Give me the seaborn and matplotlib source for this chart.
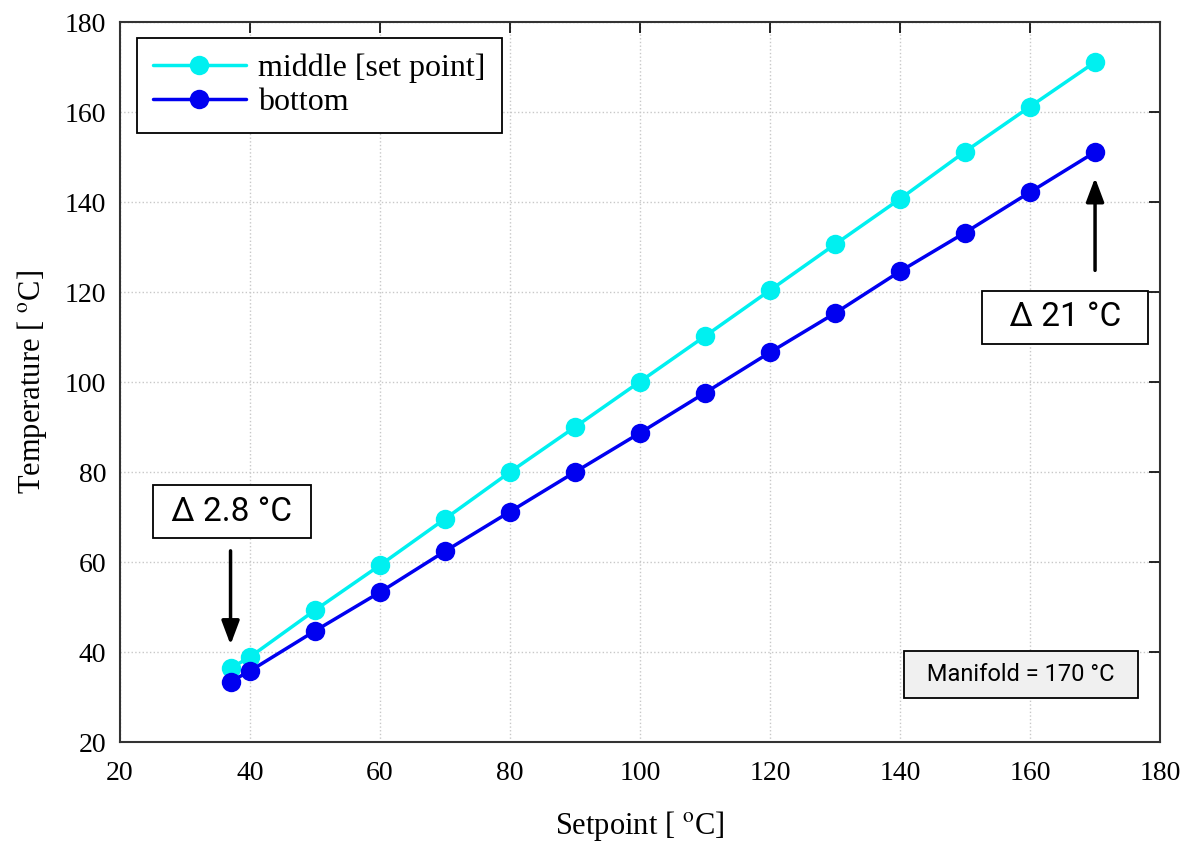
import numpy as np
import pandas as pd
import matplotlib
matplotlib.use("Agg")
import matplotlib.pyplot as plt
import seaborn as sns

setpoint = [37, 40, 50, 60, 70, 80, 90, 100, 110, 120, 130, 140, 150, 160, 170]
middle = [36.4, 38.9, 49.3, 59.3, 69.6, 80.0, 90.0, 100.1, 110.2, 120.4, 130.6, 140.7, 151.2, 161.2, 171.1]
bottom = [33.4, 35.8, 44.7, 53.3, 62.4, 71.2, 80.0, 88.7, 97.6, 106.6, 115.3, 124.6, 133.2, 142.2, 151.1]
series_names = ["middle [set point]", "bottom"]
series_colors = ["#00f0f0", "#0000f0"]
ticks = [20, 40, 60, 80, 100, 120, 140, 160, 180]

sns.set_theme(style="white")
plt.rcParams['font.family'] = ['Liberation Serif', 'DejaVu Serif']
plt.rcParams['mathtext.fontset'] = 'stix'
plt.rcParams['text.color'] = 'black'
plt.rcParams['axes.labelcolor'] = 'black'

df = pd.DataFrame({
    "Setpoint": setpoint * 2,
    "Temperature": middle + bottom,
    "Series": [series_names[0]] * len(setpoint) + [series_names[1]] * len(setpoint),
})

fig = plt.figure(figsize=(11.92, 8.41), dpi=100)
ax = fig.add_axes([0.1007, 0.1177, 0.8725, 0.8561])

sns.lineplot(data=df, x="Setpoint", y="Temperature", hue="Series",
             palette=series_colors, hue_order=series_names,
             marker="o", markersize=14, markeredgewidth=0, linewidth=2.5,
             ax=ax)

ax.set_xlim(20, 180)
ax.set_ylim(20, 180)
ax.set_xticks(ticks)
ax.set_yticks(ticks)
ax.tick_params(direction="in", length=8, width=1.2, top=True, right=True,
               labelsize=20, colors="black")
ax.tick_params(axis="x", pad=14)
ax.tick_params(axis="y", pad=10)
ax.grid(True, linestyle=":", color="#c8c8c8", linewidth=1)
for s in ax.spines.values():
    s.set_color("#333333")
    s.set_linewidth(1.5)

ax.set_xlabel(r"Setpoint [ $^{\mathrm{o}}$C]", fontsize=22, labelpad=16)
ax.set_ylabel(r"Temperature [ $^{\mathrm{o}}$C]", fontsize=22, labelpad=11)

leg = ax.legend(loc="upper left", fontsize=23, frameon=True, fancybox=False,
                edgecolor="black", borderpad=0.5, handlelength=2.9,
                handletextpad=0.4, borderaxespad=0,
                bbox_to_anchor=(0.0163, 0.978), labelspacing=0.15)
leg.get_frame().set_linewidth(1.3)
leg.get_frame().set_alpha(1)

sans = ['Roboto', 'DejaVu Sans']
box = dict(boxstyle="square,pad=0.32", facecolor="white", edgecolor="black", linewidth=1.3)
arrow = dict(arrowstyle="-|>,head_length=1.2,head_width=0.45", color="black", lw=2.5)
ax.text(37.2, 71.2, " Δ 2.8 °C ", family=sans, fontsize=24, ha="center", va="center", bbox=box)
ax.annotate("", xy=(37, 41.0), xytext=(37, 63.1), arrowprops=arrow)
ax.text(165.4, 114.4, "  Δ 21 °C  ", family=sans, fontsize=24, ha="center", va="center", bbox=box)
ax.annotate("", xy=(170, 146.0), xytext=(170, 124.2), arrowprops=arrow)
box2 = dict(boxstyle="square,pad=0.5", facecolor="#f0f0f0", edgecolor="black", linewidth=1.3)
ax.text(158.6, 35.0, "  Manifold = 170 °C  ", family=sans, fontsize=17, ha="center", va="center", bbox=box2)

fig.savefig("out.png", dpi=100)
